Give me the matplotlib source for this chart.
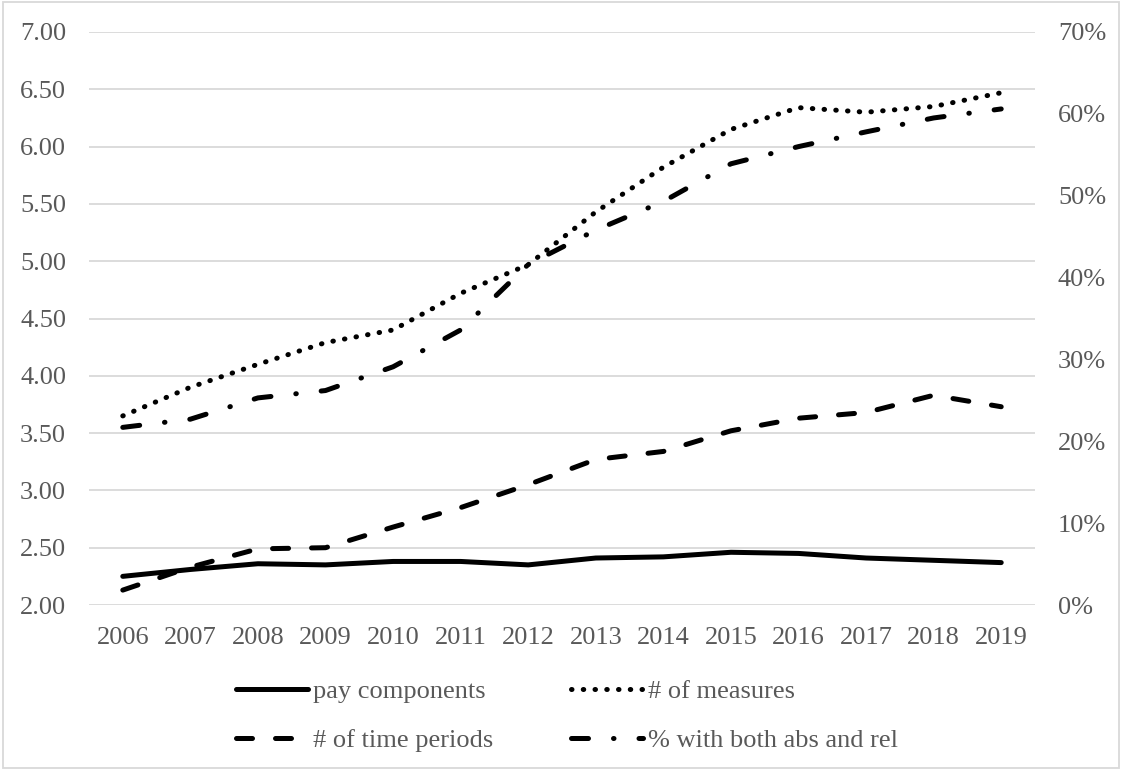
import matplotlib.pyplot as plt
from matplotlib.patches import Rectangle
from matplotlib.ticker import FuncFormatter, MultipleLocator

plt.rcParams['font.family'] = ['Liberation Serif', 'DejaVu Serif']

years = [str(y) for y in range(2006, 2020)]
pay_components = [2.25, 2.31, 2.36, 2.35, 2.38, 2.38, 2.35, 2.41, 2.42, 2.46, 2.45, 2.41, 2.39, 2.37]
n_measures = [3.65, 3.90, 4.10, 4.29, 4.40, 4.72, 4.97, 5.43, 5.82, 6.15, 6.34, 6.30, 6.35, 6.47]
n_time_periods = [2.13, 2.33, 2.49, 2.50, 2.68, 2.85, 3.05, 3.27, 3.34, 3.52, 3.63, 3.68, 3.83, 3.73]
pct_abs_rel = [21.7, 22.7, 25.3, 26.2, 29.1, 33.6, 41.6, 45.8, 49.3, 53.9, 56.0, 57.8, 59.5, 60.6]

GRAY = '#595959'
GRID = '#D9D9D9'
FS = 19

fig = plt.figure(figsize=(11.22, 7.70), dpi=100)
ax = fig.add_axes([89/1122, 1 - 605/770, (1035 - 89)/1122, (605 - 32)/770])
ax2 = ax.twinx()

x = list(range(len(years)))
lw = 3.6
sty_dot = (0, (0.1, 2.25))
sty_dash = (0, (3.2, 4.6))
sty_dashdot = (0, (3.4, 5.0, 0.1, 5.0))

l1, = ax.plot(x, pay_components, color='black', lw=lw, solid_capstyle='round', label='pay components')
l2, = ax.plot(x, n_measures, color='black', lw=lw, ls=sty_dot, dash_capstyle='round', label='# of measures')
l3, = ax.plot(x, n_time_periods, color='black', lw=lw, ls=sty_dash, dash_capstyle='round', label='# of time periods')
l4, = ax2.plot(x, pct_abs_rel, color='black', lw=lw, ls=sty_dashdot, dash_capstyle='round', label='% with both abs and rel')

ax.set_xlim(-0.5, len(years) - 0.5)
ax.set_ylim(2.0, 7.0)
ax.yaxis.set_major_locator(MultipleLocator(0.5))
ax.yaxis.set_major_formatter(FuncFormatter(lambda v, p: f'{v:.2f}'))
ax2.set_ylim(0, 70)
ax2.yaxis.set_major_locator(MultipleLocator(10))
ax2.yaxis.set_major_formatter(FuncFormatter(lambda v, p: f'{v:.0f}%'))
ax.set_xticks(x)
ax.set_xticklabels(years)

ax.grid(axis='y', color=GRID, lw=1.3)
ax.set_axisbelow(True)
for a in (ax, ax2):
    for s in a.spines.values():
        s.set_visible(False)
    a.tick_params(length=0, labelsize=FS, labelcolor=GRAY)
ax.tick_params(axis='y', pad=16.5)
ax2.tick_params(axis='y', pad=16.5)
ax.tick_params(axis='x', pad=16)

handles = [l1, l3, l2, l4]
fig.legend(handles, [h.get_label() for h in handles], ncol=2, loc='center',
           bbox_to_anchor=(0.5 + 6/1122, 1 - 716/770), frameon=False, fontsize=FS,
           labelcolor=GRAY, handlelength=2.73, handletextpad=0.19,
           columnspacing=2.95, labelspacing=0.95)

fig.patches.append(Rectangle((0.003, 0.003), 0.994, 0.994, transform=fig.transFigure,
                             fill=False, edgecolor=GRID, lw=1.3))

fig.savefig('out.png', dpi=100)
